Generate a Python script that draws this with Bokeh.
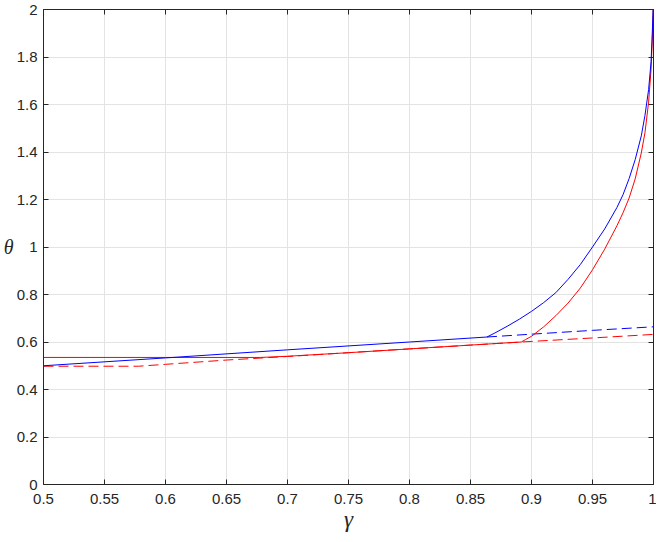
from bokeh.plotting import figure
from bokeh.models import Range1d, LinearAxis, FixedTicker, CustomLabelingPolicy
from bokeh.embed import file_html
from bokeh.resources import INLINE

# ---- tick values / labels ----
x_ticks = [0.5, 0.55, 0.6, 0.65, 0.7, 0.75, 0.8, 0.85, 0.9, 0.95, 1.0]
x_tick_labels = ["0.5", "0.55", "0.6", "0.65", "0.7", "0.75", "0.8", "0.85", "0.9", "0.95", "1"]
y_ticks = [0, 0.2, 0.4, 0.6, 0.8, 1.0, 1.2, 1.4, 1.6, 1.8, 2.0]
y_tick_labels = ["0", "0.2", "0.4", "0.6", "0.8", "1", "1.2", "1.4", "1.6", "1.8", "2"]

# ---- blue series ----
blue_solid_x = [0.5, 0.6, 0.7, 0.8, 0.8635, 0.87, 0.88, 0.89, 0.9, 0.91, 0.92, 0.93, 0.94,
                0.95, 0.96, 0.97, 0.975, 0.98, 0.985, 0.99, 0.993, 0.996, 0.998, 0.999, 1.0]
blue_solid_y = [0.500, 0.533, 0.567, 0.600, 0.621, 0.638, 0.666, 0.696, 0.729, 0.766, 0.808,
                0.864, 0.926, 1.000, 1.076, 1.166, 1.220, 1.288, 1.368, 1.468, 1.554, 1.663,
                1.780, 1.900, 2.050]
blue_dash_x = [0.8635, 0.9, 0.95, 1.0]
blue_dash_y = [0.621, 0.633, 0.649, 0.664]

# ---- red series ----
red_solid_x = [0.5, 0.6, 0.678, 0.7, 0.75, 0.8, 0.85, 0.8916, 0.895, 0.9, 0.91, 0.92, 0.93,
               0.94, 0.95, 0.96, 0.97, 0.975, 0.98, 0.985, 0.99, 0.993, 0.996, 0.998, 0.999, 1.0]
red_solid_y = [0.535, 0.535, 0.535, 0.540, 0.555, 0.571, 0.587, 0.600, 0.610, 0.624, 0.664,
               0.711, 0.764, 0.827, 0.904, 0.991, 1.089, 1.144, 1.206, 1.287, 1.396, 1.481,
               1.610, 1.748, 1.867, 2.050]
red_dash_x = [0.5, 0.578, 0.6, 0.65, 0.7, 0.75, 0.8, 0.85, 0.8916, 0.95, 1.0]
red_dash_y = [0.498, 0.498, 0.506, 0.524, 0.539, 0.555, 0.571, 0.587, 0.600, 0.617, 0.632]

AX = "#262626"
GRID = "#e3e3e3"
TICK_FONT = "Liberation Sans"

p = figure(width=656, height=534, output_backend="svg", toolbar_location=None,
           x_range=Range1d(0.5, 1.0), y_range=Range1d(0, 2.0),
           min_border_left=36, min_border_right=3, min_border_top=9, min_border_bottom=0)
p.background_fill_color = "white"
p.border_fill_color = "white"
p.outline_line_color = None

xt = FixedTicker(ticks=x_ticks)
yt = FixedTicker(ticks=y_ticks)

for ax, tk, labs in ((p.xaxis[0], xt, x_tick_labels), (p.yaxis[0], yt, y_tick_labels)):
    ax.ticker = tk
    ax.major_label_overrides = {v: s for v, s in zip(tk.ticks, labs)}
    ax.major_tick_in = 5
    ax.major_tick_out = 0
    ax.minor_tick_line_color = None
    ax.axis_line_color = AX
    ax.major_tick_line_color = AX
    ax.major_label_text_color = AX
    ax.major_label_text_font = TICK_FONT
    ax.major_label_text_font_size = "15px"

p.xaxis[0].major_label_standoff = 9
p.yaxis[0].major_label_standoff = 6

p.xaxis[0].axis_label = "γ"
p.xaxis[0].axis_label_text_font = "Liberation Serif"
p.xaxis[0].axis_label_text_font_style = "italic"
p.xaxis[0].axis_label_text_font_size = "23px"
p.xaxis[0].axis_label_text_color = AX
p.xaxis[0].axis_label_standoff = 0

p.yaxis[0].axis_label = "θ"
p.yaxis[0].axis_label_orientation = "horizontal"
p.yaxis[0].axis_label_text_font = "Liberation Serif"
p.yaxis[0].axis_label_text_font_style = "italic"
p.yaxis[0].axis_label_text_font_size = "20px"
p.yaxis[0].axis_label_text_color = AX
p.yaxis[0].axis_label_standoff = 0

no_labels = CustomLabelingPolicy(code="""
const n = indices.size
for (let i = 0; i < n; i++) { indices.unset(i) }
return indices
""")

top = LinearAxis(ticker=FixedTicker(ticks=x_ticks), major_label_policy=no_labels,
                 major_label_overrides={v: "" for v in x_ticks},
                 major_label_text_font_size="1px",
                 major_label_standoff=0, major_tick_in=5, major_tick_out=0,
                 minor_tick_line_color=None, axis_line_color=AX, major_tick_line_color=AX)
right = LinearAxis(ticker=FixedTicker(ticks=y_ticks), major_label_policy=no_labels,
                   major_label_overrides={v: "" for v in y_ticks},
                   major_label_text_font_size="1px",
                   major_label_standoff=0, major_tick_in=5, major_tick_out=0,
                   minor_tick_line_color=None, axis_line_color=AX, major_tick_line_color=AX)
p.add_layout(top, "above")
p.add_layout(right, "right")

p.xgrid.ticker = xt
p.ygrid.ticker = yt
p.xgrid.grid_line_color = GRID
p.ygrid.grid_line_color = GRID

p.line(red_dash_x, red_dash_y, line_color="#ff0000", line_width=1, line_dash="10 5")
p.line(blue_dash_x, blue_dash_y, line_color="#0000ff", line_width=1, line_dash="10 5")
p.line(red_solid_x, red_solid_y, line_color="#ff0000", line_width=1)
p.line(blue_solid_x, blue_solid_y, line_color="#0000ff", line_width=1)

open("out.html", "w").write(file_html(p, INLINE))
